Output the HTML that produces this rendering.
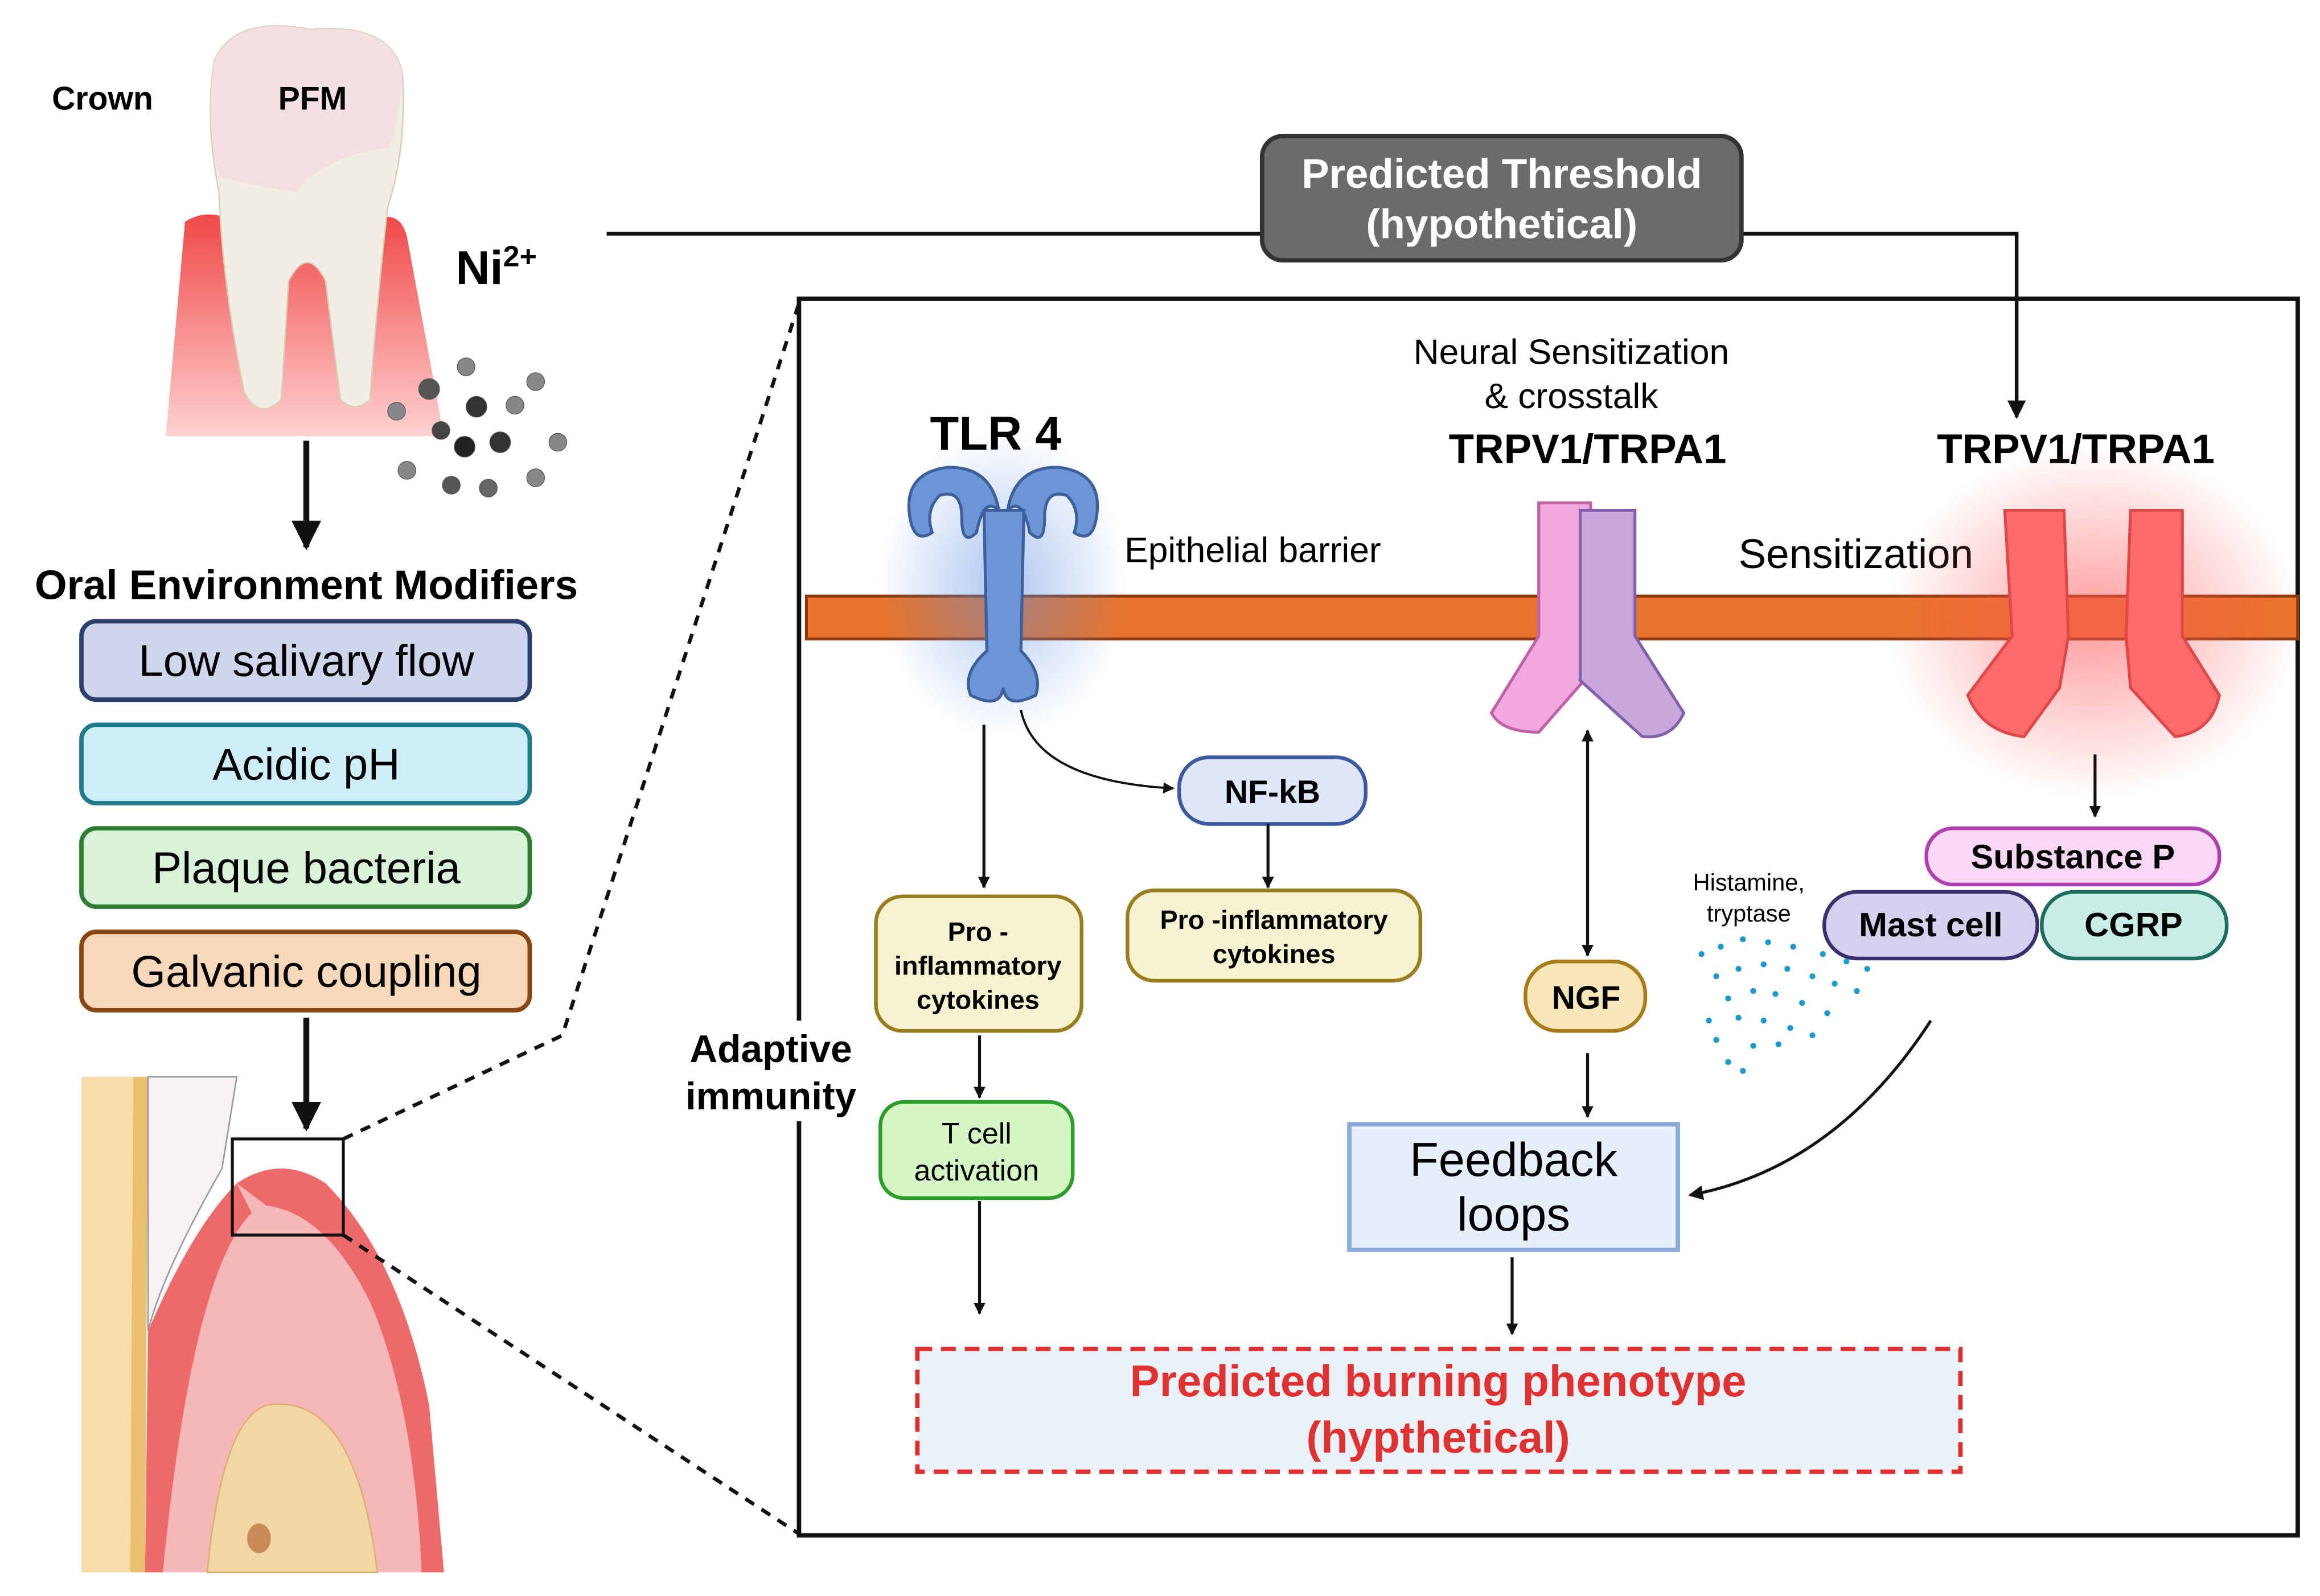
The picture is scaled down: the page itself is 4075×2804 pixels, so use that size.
<!DOCTYPE html>
<html><head><meta charset="utf-8"><style>html,body{margin:0;padding:0;background:#fff}svg{display:block}</style></head>
<body>
<svg xmlns="http://www.w3.org/2000/svg" width="4075" height="2804" viewBox="0 0 1568 1079" font-family="Liberation Sans, sans-serif">
<defs>
<marker id="ah" viewBox="0 0 10 10" refX="9" refY="5" markerWidth="5" markerHeight="5" orient="auto-start-reverse"><path d="M0,0L10,5L0,10z" fill="#111"/></marker>
<marker id="ahb" viewBox="0 0 10 10" refX="9" refY="5" markerWidth="4" markerHeight="4" orient="auto-start-reverse"><path d="M0,0L10,5L0,10z" fill="#111"/></marker>
<radialGradient id="glow"><stop offset="0" stop-color="#ff5a5a" stop-opacity="0.6"/><stop offset="1" stop-color="#ff5a5a" stop-opacity="0"/></radialGradient>
<radialGradient id="bglow"><stop offset="0" stop-color="#5b8fe0" stop-opacity="0.5"/><stop offset="1" stop-color="#5b8fe0" stop-opacity="0"/></radialGradient>
<linearGradient id="gum" x1="0" y1="0" x2="0" y2="1"><stop offset="0" stop-color="#f04848"/><stop offset="1" stop-color="#ffd0d0"/></linearGradient>
</defs>

<path d="M125,150 Q140,140 160,150 L250,150 Q270,140 275,160 L300,295 L112,295 Z" fill="url(#gum)"/>
<path d="M145,40 Q160,10 210,20 Q265,15 272,50 Q275,100 262,140 Q255,200 250,270 Q240,280 230,270 L220,190 Q208,165 195,190 L190,270 Q175,285 165,265 Q150,190 148,130 Q138,80 145,40Z" fill="#f2eee4" stroke="#d8cfb8"/>
<path d="M145,40 Q160,10 210,20 Q265,15 272,50 Q270,85 262,100 Q220,105 200,130 Q170,125 148,120 Q138,80 145,40Z" fill="#f3dde0" opacity="0.8"/>
<text x="35" y="74" font-size="22" font-weight="bold">Crown</text>
<text x="188" y="74" font-size="22" font-weight="bold">PFM</text>
<text x="308" y="192" font-size="32" font-weight="bold">Ni<tspan font-size="20" dy="-12">2+</tspan></text>
<g fill="#888" stroke="#555" stroke-width="0.5">
<circle cx="315" cy="248" r="6"/><circle cx="362" cy="258" r="6"/><circle cx="290" cy="263" r="7" fill="#555"/><circle cx="322" cy="275" r="7" fill="#333"/><circle cx="348" cy="274" r="6"/><circle cx="268" cy="278" r="6"/><circle cx="298" cy="291" r="6" fill="#444"/><circle cx="314" cy="302" r="7" fill="#222"/><circle cx="338" cy="299" r="7" fill="#333"/><circle cx="377" cy="299" r="6"/><circle cx="275" cy="318" r="6"/><circle cx="305" cy="328" r="6" fill="#555"/><circle cx="330" cy="330" r="6" fill="#666"/><circle cx="362" cy="323" r="6"/>
</g>
<line x1="207" y1="298" x2="207" y2="370" stroke="#111" stroke-width="4" marker-end="url(#ah)"/>
<text x="207" y="405" font-size="28" font-weight="bold" text-anchor="middle">Oral Environment Modifiers</text>
<rect x="55" y="420" width="303" height="53" rx="10" fill="#cdd6ea" stroke="#2d3f6e" stroke-width="3"/>
<text x="207" y="457" font-size="30" text-anchor="middle">Low salivary flow</text>
<rect x="55" y="490" width="303" height="53" rx="10" fill="#cdeef6" stroke="#1f7a8c" stroke-width="3"/>
<text x="207" y="527" font-size="30" text-anchor="middle">Acidic pH</text>
<rect x="55" y="560" width="303" height="53" rx="10" fill="#d8f3d8" stroke="#2e7d32" stroke-width="3"/>
<text x="207" y="597" font-size="30" text-anchor="middle">Plaque bacteria</text>
<rect x="55" y="630" width="303" height="53" rx="10" fill="#f7d8b8" stroke="#8b4513" stroke-width="3"/>
<text x="207" y="667" font-size="30" text-anchor="middle">Galvanic coupling</text>
<line x1="207" y1="688" x2="207" y2="763" stroke="#111" stroke-width="4" marker-end="url(#ah)"/>

<rect x="55" y="728" width="35" height="335" fill="#f7dca8"/>
<path d="M90,728 L100,728 L98,1063 L88,1063Z" fill="#e8c070"/>
<path d="M100,728 L160,728 L150,790 Q110,860 100,900Z" fill="#f6f2f2" stroke="#999"/>
<path d="M100,900 Q130,830 160,800 Q190,780 220,800 Q270,850 290,950 L300,1063 L98,1063Z" fill="#f6b7b7"/>
<path d="M160,800 Q190,780 220,800 Q270,850 290,950 L300,1063 L285,1063 Q280,950 250,880 Q220,820 180,815Z" fill="#ee6a6a"/>
<path d="M100,900 Q130,830 160,800 L170,820 Q130,860 110,1063 L98,1063Z" fill="#ee6a6a"/>
<path d="M140,1063 Q150,960 180,950 Q240,940 255,1063Z" fill="#f3d6a6" stroke="#d9b070"/>
<ellipse cx="175" cy="1040" rx="8" ry="10" fill="#c98a5a"/>
<rect x="157" y="770" width="75" height="65" fill="none" stroke="#111" stroke-width="2"/>

<path d="M232,770 L380,700 L540,205" fill="none" stroke="#111" stroke-width="2.5" stroke-dasharray="7,6"/>
<path d="M232,835 L540,1037" fill="none" stroke="#111" stroke-width="2.5" stroke-dasharray="7,6"/>

<rect x="540" y="202" width="1013" height="836" fill="none" stroke="#111" stroke-width="3"/>

<path d="M410,158 L853,158" stroke="#111" stroke-width="2.5"/>
<path d="M1177,158 L1363,158 L1363,282" fill="none" stroke="#111" stroke-width="2.5" marker-end="url(#ah)"/>
<rect x="853" y="92" width="324" height="84" rx="14" fill="#6b6b6b" stroke="#333" stroke-width="3"/>
<text x="1015" y="127" font-size="28" font-weight="bold" fill="#fff" text-anchor="middle">Predicted Threshold</text>
<text x="1015" y="161" font-size="28" font-weight="bold" fill="#fff" text-anchor="middle">(hypothetical)</text>

<rect x="545" y="403" width="1008" height="29" fill="#e8732a" stroke="#8b3a10" stroke-width="2"/>

<ellipse cx="678" cy="395" rx="85" ry="105" fill="url(#bglow)"/>
<text x="673" y="304" font-size="32" font-weight="bold" text-anchor="middle">TLR 4</text>
<g fill="#6c95d6" stroke="#3d5f9c" stroke-width="2">
<path d="M615,350 Q610,320 640,316 Q670,315 675,345 Q665,335 660,360 Q650,370 650,350 Q650,330 635,335 Q625,345 630,360 Q618,368 615,350Z"/>
<path d="M741,350 Q746,320 716,316 Q686,315 681,345 Q691,335 696,360 Q706,370 706,350 Q706,330 721,335 Q731,345 726,360 Q738,368 741,350Z"/>
<path d="M665,345 L692,345 L690,440 Q705,455 700,470 Q680,480 678,465 Q676,480 656,470 Q650,455 667,440Z"/>
</g>
<text x="760" y="380" font-size="24">Epithelial barrier</text>

<text x="1062" y="246" font-size="24" text-anchor="middle">Neural Sensitization</text>
<text x="1062" y="276" font-size="24" text-anchor="middle">&amp; crosstalk</text>
<text x="1073" y="313" font-size="28" font-weight="bold" text-anchor="middle">TRPV1/TRPA1</text>
<path d="M1040,340 L1075,340 L1078,420 L1075,455 L1040,495 Q1015,495 1008,482 L1040,430Z" fill="#f1a8dc" stroke="#c060a8" stroke-width="2"/>
<path d="M1068,345 L1105,345 L1105,430 L1138,482 Q1130,500 1110,498 L1068,460Z" fill="#c8a8dc" stroke="#8060a8" stroke-width="2"/>
<text x="1403" y="313" font-size="28" font-weight="bold" text-anchor="middle">TRPV1/TRPA1</text>
<text x="1175" y="384" font-size="28">Sensitization</text>

<ellipse cx="1415" cy="420" rx="140" ry="120" fill="url(#glow)"/>
<g fill="#ff6b6b" stroke="#e04848" stroke-width="2">
<path d="M1355,345 L1395,345 L1398,430 L1392,465 L1368,498 Q1340,495 1330,470 L1360,430Z"/>
<path d="M1440,345 L1475,345 L1475,430 L1500,470 Q1495,495 1470,498 L1440,465 L1437,430Z"/>
</g>

<line x1="665" y1="490" x2="665" y2="600" stroke="#111" stroke-width="2" marker-end="url(#ahb)"/>
<path d="M690,480 Q700,528 793,533" fill="none" stroke="#111" stroke-width="1.5" marker-end="url(#ah)"/>
<rect x="797" y="512" width="126" height="45" rx="20" fill="#dfe8fb" stroke="#3b5aa0" stroke-width="2.5"/>
<text x="860" y="543" font-size="22" font-weight="bold" text-anchor="middle">NF-kB</text>
<line x1="857" y1="557" x2="857" y2="600" stroke="#111" stroke-width="2" marker-end="url(#ahb)"/>
<rect x="762" y="602" width="198" height="61" rx="18" fill="#f7f3d0" stroke="#9a7d1f" stroke-width="2.5"/>
<text x="861" y="628" font-size="18" font-weight="bold" text-anchor="middle">Pro -inflammatory</text>
<text x="861" y="651" font-size="18" font-weight="bold" text-anchor="middle">cytokines</text>
<rect x="592" y="606" width="139" height="91" rx="18" fill="#f7f3d0" stroke="#9a7d1f" stroke-width="2.5"/>
<text x="661" y="636" font-size="18" font-weight="bold" text-anchor="middle">Pro -</text>
<text x="661" y="659" font-size="18" font-weight="bold" text-anchor="middle">inflammatory</text>
<text x="661" y="682" font-size="18" font-weight="bold" text-anchor="middle">cytokines</text>
<line x1="662" y1="700" x2="662" y2="742" stroke="#111" stroke-width="2" marker-end="url(#ahb)"/>
<rect x="595" y="745" width="130" height="65" rx="16" fill="#d5f7c5" stroke="#2a9d2a" stroke-width="2.5"/>
<text x="660" y="773" font-size="20" text-anchor="middle">T cell</text>
<text x="660" y="798" font-size="20" text-anchor="middle">activation</text>
<line x1="662" y1="812" x2="662" y2="888" stroke="#111" stroke-width="2" marker-end="url(#ahb)"/>
<rect x="460" y="690" width="122" height="68" fill="#fff"/>
<text x="521" y="718" font-size="26" font-weight="bold" text-anchor="middle">Adaptive</text>
<text x="521" y="750" font-size="26" font-weight="bold" text-anchor="middle">immunity</text>

<line x1="1073" y1="494" x2="1073" y2="646" stroke="#111" stroke-width="2" marker-start="url(#ahb)" marker-end="url(#ahb)"/>
<rect x="1031" y="650" width="81" height="47" rx="22" fill="#f7e6b8" stroke="#a67c1a" stroke-width="2.5"/>
<text x="1072" y="682" font-size="22" font-weight="bold" text-anchor="middle">NGF</text>
<line x1="1073" y1="712" x2="1073" y2="755" stroke="#111" stroke-width="2" marker-end="url(#ahb)"/>
<rect x="912" y="760" width="222" height="85" fill="#e6f0fa" stroke="#8aaad8" stroke-width="3"/>
<text x="1023" y="795" font-size="32" text-anchor="middle">Feedback</text>
<text x="1023" y="832" font-size="32" text-anchor="middle">loops</text>
<line x1="1022" y1="850" x2="1022" y2="902" stroke="#111" stroke-width="2" marker-end="url(#ahb)"/>

<rect x="620" y="912" width="705" height="83" fill="#e9f1f9" stroke="#e03030" stroke-width="3" stroke-dasharray="10,6"/>
<text x="972" y="944" font-size="30" font-weight="bold" fill="#e03030" text-anchor="middle">Predicted burning phenotype</text>
<text x="972" y="982" font-size="30" font-weight="bold" fill="#e03030" text-anchor="middle">(hypthetical)</text>

<line x1="1416" y1="510" x2="1416" y2="552" stroke="#111" stroke-width="2" marker-end="url(#ahb)"/>
<rect x="1302" y="560" width="198" height="38" rx="18" fill="#f9d8f5" stroke="#b040b0" stroke-width="2.5"/>
<text x="1401" y="587" font-size="23" font-weight="bold" text-anchor="middle">Substance P</text>
<rect x="1233" y="603" width="144" height="45" rx="22" fill="#d6d0ee" stroke="#3c2f6e" stroke-width="2.5"/>
<text x="1305" y="633" font-size="23" font-weight="bold" text-anchor="middle">Mast cell</text>
<rect x="1380" y="603" width="125" height="45" rx="22" fill="#c8eee6" stroke="#1e6e5e" stroke-width="2.5"/>
<text x="1442" y="633" font-size="23" font-weight="bold" text-anchor="middle">CGRP</text>
<text x="1182" y="602" font-size="16" text-anchor="middle">Histamine,</text>
<text x="1182" y="623" font-size="16" text-anchor="middle">tryptase</text>
<g fill="#1a9ad0">
<circle cx="1150" cy="645" r="2"/><circle cx="1163" cy="640" r="2"/><circle cx="1178" cy="635" r="2"/><circle cx="1195" cy="637" r="2"/><circle cx="1212" cy="640" r="2"/><circle cx="1232" cy="645" r="2"/><circle cx="1248" cy="650" r="2"/><circle cx="1262" cy="655" r="2"/>
<circle cx="1160" cy="660" r="2"/><circle cx="1175" cy="655" r="2"/><circle cx="1192" cy="652" r="2"/><circle cx="1208" cy="655" r="2"/><circle cx="1225" cy="660" r="2"/><circle cx="1240" cy="665" r="2"/><circle cx="1255" cy="670" r="2"/>
<circle cx="1168" cy="675" r="2"/><circle cx="1185" cy="670" r="2"/><circle cx="1200" cy="672" r="2"/><circle cx="1218" cy="678" r="2"/><circle cx="1235" cy="685" r="2"/>
<circle cx="1155" cy="690" r="2"/><circle cx="1175" cy="688" r="2"/><circle cx="1192" cy="690" r="2"/><circle cx="1210" cy="695" r="2"/><circle cx="1225" cy="700" r="2"/>
<circle cx="1160" cy="703" r="2"/><circle cx="1185" cy="707" r="2"/><circle cx="1202" cy="706" r="2"/><circle cx="1168" cy="718" r="2"/><circle cx="1178" cy="724" r="2"/>
</g>
<path d="M1305,690 Q1240,790 1142,808" fill="none" stroke="#111" stroke-width="2" marker-end="url(#ah)"/>
</svg>
</body></html>
